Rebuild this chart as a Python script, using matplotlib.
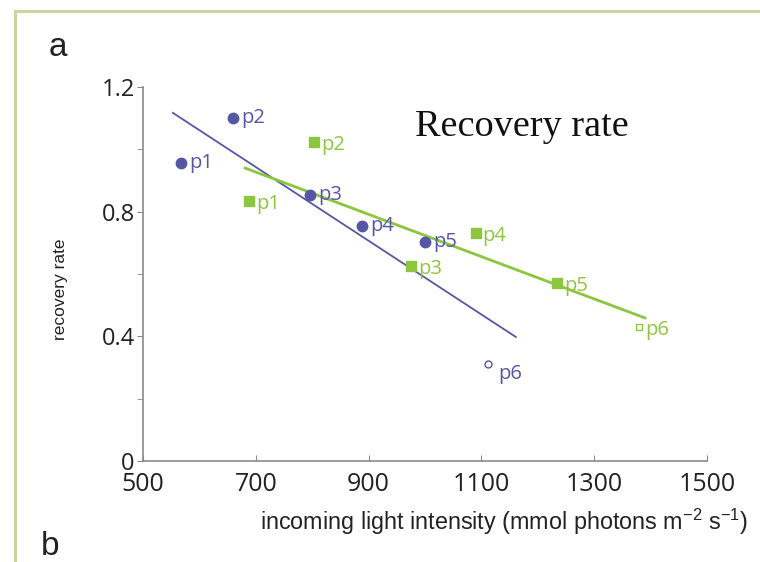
import matplotlib.pyplot as plt
from matplotlib.patches import Rectangle
from matplotlib.transforms import ScaledTranslation

# recovery rate vs incoming light, two series with their regression lines
blue_labels = ['p1', 'p2', 'p3', 'p4', 'p5', 'p6']
blue_x = [567, 660, 796, 888, 1000, 1112]
blue_y = [0.956, 1.10, 0.853, 0.754, 0.703, 0.311]
blue_fit_x = [553, 1161]
blue_fit_y = [1.117, 0.398]

green_labels = ['p1', 'p2', 'p3', 'p4', 'p5', 'p6']
green_x = [688, 803, 975, 1090, 1234, 1379]
green_y = [0.834, 1.023, 0.626, 0.731, 0.571, 0.430]
green_fit_x = [681, 1390]
green_fit_y = [0.940, 0.459]

xticks = [500, 700, 900, 1100, 1300, 1500]
yticks = [0, 0.4, 0.8, 1.2]
yticks_minor = [0.2, 0.6, 1.0]

BLUE = '#5656a6'
GREEN = '#8cc63e'
TICKFONT = 'Open Sans'

fig = plt.figure(figsize=(7.6, 5.62), dpi=100)

# panel frame
fig.patches.append(Rectangle((14.5 / 760, -0.1), 1.2, (551 + 0.1 * 562) / 562,
                             transform=fig.transFigure, fill=False,
                             edgecolor='#c9d5a3', linewidth=2.2))

ax = fig.add_axes([143 / 760, 1 - 461 / 562, 564 / 760, 374 / 562])

ax.plot(blue_fit_x, blue_fit_y, color=BLUE, lw=1.3)
ax.plot(green_fit_x, green_fit_y, color=GREEN, lw=2.0)

for i, (x, y, t) in enumerate(zip(blue_x, blue_y, blue_labels)):
    last = i == len(blue_x) - 1
    ax.plot(x, y, 'o', ms=5 if last else 7.5, mfc='white' if last else BLUE,
            mec=BLUE, mew=1.0, clip_on=False, zorder=3)
    off = (7, -7) if last else (6, 0)
    ax.annotate(t, (x, y), xytext=off, textcoords='offset points',
                va='center', ha='left', color=BLUE,
                fontsize=14.5, family=TICKFONT)

for i, (x, y, t) in enumerate(zip(green_x, green_y, green_labels)):
    last = i == len(green_x) - 1
    ax.plot(x, y, 's', ms=5 if last else 7, mfc='white' if last else GREEN,
            mec=GREEN, mew=1.0, clip_on=False, zorder=3)
    ax.annotate(t, (x, y), xytext=(5, -2), textcoords='offset points',
                va='center', ha='left', color=GREEN,
                fontsize=14.5, family=TICKFONT)

ax.text(1172, 1.072, 'Recovery rate', ha='center', va='center',
        fontsize=27.5, family='Liberation Serif', color='#111111')

ax.set_xlim(500, 1500)
ax.set_ylim(0, 1.2)
ax.set_xticks(xticks)
ax.set_xticklabels([str(v) for v in xticks], family=TICKFONT, fontsize=18)
ax.set_yticks(yticks)
ax.set_yticklabels(['0', '0.4', '0.8', '1.2'], family=TICKFONT, fontsize=17)
ax.set_yticks(yticks_minor, minor=True)

# lift the "0" a little so it sits clear of the x labels
zero = ax.get_yticklabels()[0]
zero.set_transform(zero.get_transform() + ScaledTranslation(0, 4.5 / 72, fig.dpi_scale_trans))

for side in ('top', 'right'):
    ax.spines[side].set_visible(False)
for side in ('left', 'bottom'):
    ax.spines[side].set_color('#8a8a8a')
    ax.spines[side].set_linewidth(1.2)

ax.tick_params(axis='x', direction='in', length=4, color='#8a8a8a', pad=8,
               labelcolor='#222222')
ax.tick_params(axis='y', which='both', direction='out', length=4,
               color='#8a8a8a', pad=2, labelcolor='#222222')

ax.set_xlabel('incoming light intensity (mmol photons m$^{\\mathregular{-2}}$ s$^{\\mathregular{-1}}$)',
              family='Liberation Sans', fontsize=16.8, color='#222222',
              labelpad=7, x=0.64)
ax.set_ylabel('recovery rate', family='Liberation Sans', fontsize=12.5,
              color='#222222', labelpad=24, y=0.46)

fig.text(58 / 760, 1 - 48 / 562, 'a', fontsize=24, family='Liberation Sans',
         ha='center', va='center', color='#222222')
fig.text(50 / 760, 1 - 555 / 562, 'b', fontsize=24, family='Liberation Sans',
         ha='center', va='baseline', color='#222222')

fig.savefig('out.png', dpi=100)
